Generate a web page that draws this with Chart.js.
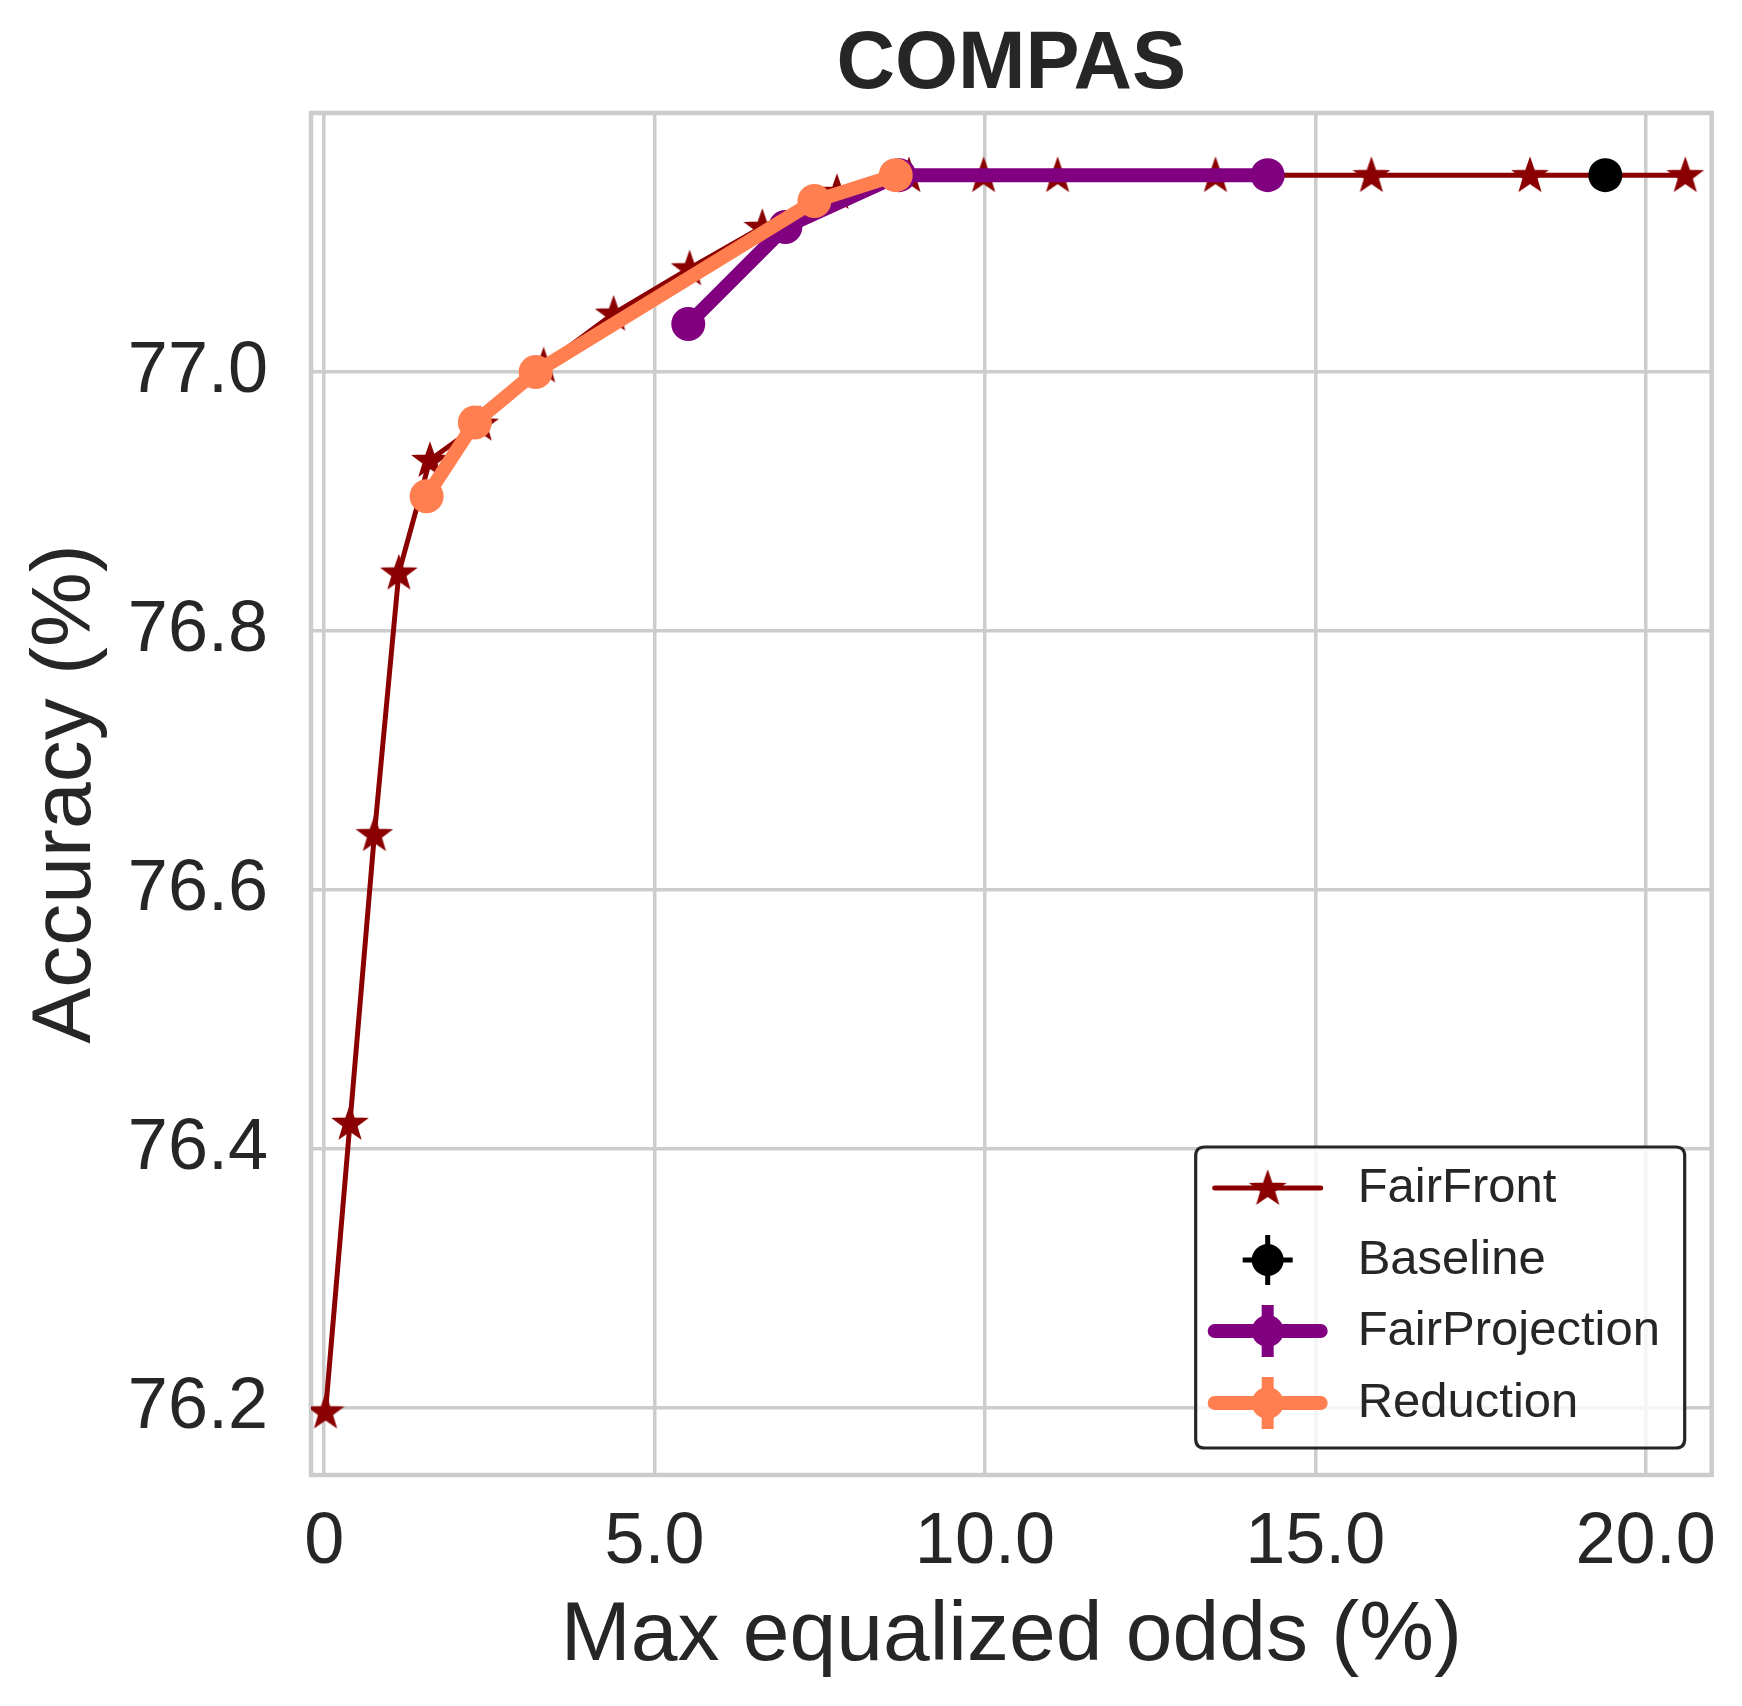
<!DOCTYPE html>
<html>
<head>
<meta charset="utf-8">
<script src="https://cdn.jsdelivr.net/npm/chart.js@4.4.1/dist/chart.umd.min.js"></script>
<style>
  html, body { margin: 0; padding: 0; background: #fff; }
  #wrap { width: 1742px; height: 1706px; position: relative; }
</style>
</head>
<body>
<div id="wrap"><canvas id="chart"></canvas></div>
<script>
// values
const fairFrontX = [0.02, 0.39, 0.76, 1.13, 1.6, 2.36, 3.32, 4.38, 5.53, 6.63, 7.76, 8.85, 9.98, 11.1, 13.49, 15.85, 18.25, 20.6];
const fairFrontY = [76.197, 76.42, 76.643, 76.845, 76.932, 76.96, 77.005, 77.045, 77.08, 77.112, 77.139, 77.152, 77.152, 77.152, 77.152, 77.152, 77.152, 77.152];
const baselineX = [19.39];
const baselineY = [77.152];
const fairProjX = [5.51, 6.98, 8.7, 14.28];
const fairProjY = [77.037, 77.112, 77.152, 77.152];
const reductionX = [1.55, 2.28, 3.2, 7.42, 8.65];
const reductionY = [76.904, 76.961, 77.0, 77.132, 77.152];

const xTicks = [0, 5, 10, 15, 20];
const xTickLabels = ['0', '5.0', '10.0', '15.0', '20.0'];
const yTicks = [76.2, 76.4, 76.6, 76.8, 77.0];
const yTickLabels = ['76.2', '76.4', '76.6', '76.8', '77.0'];

const seriesNames = ['FairFront', 'Baseline', 'FairProjection', 'Reduction'];
const chartTitle = 'COMPAS';

const FONT = "'Liberation Sans', Arial, sans-serif";
const TEXT = '#262626';
const GRID = '#cccccc';

function pts(xs, ys) {
  return xs.map((x, i) => ({ x: x, y: ys[i] }));
}

// filled 5-point star like matplotlib's '*' (with its thin edge)
function makeStar(r, color) {
  const c = document.createElement('canvas');
  const s = Math.ceil(r * 2 + 6);
  c.width = s; c.height = s;
  const g = c.getContext('2d');
  g.fillStyle = color;
  g.strokeStyle = color;
  g.lineWidth = 2.5;
  g.lineJoin = 'miter';
  g.beginPath();
  for (let i = 0; i < 10; i++) {
    const rad = i % 2 === 0 ? r : r * 0.4;
    const a = -Math.PI / 2 + i * Math.PI / 5;
    const px = s / 2 + rad * Math.cos(a), py = s / 2 + 1 + rad * Math.sin(a);
    if (i === 0) g.moveTo(px, py); else g.lineTo(px, py);
  }
  g.closePath();
  g.fill();
  g.stroke();
  return c;
}
const starImg = makeStar(16, '#8b0000');

const framePlugin = {
  id: 'frame',
  beforeDatasetsDraw(chart) {
    const { ctx, chartArea: a } = chart;
    ctx.save();
    ctx.strokeStyle = GRID;
    ctx.lineWidth = 4.5;
    ctx.strokeRect(a.left, a.top, a.right - a.left, a.bottom - a.top);
    ctx.restore();
  }
};

// title centred over the plot area, like matplotlib's ax.set_title
const titlePlugin = {
  id: 'axTitle',
  afterDraw(chart) {
    const { ctx, chartArea: a } = chart;
    ctx.save();
    ctx.fillStyle = TEXT;
    ctx.font = 'bold 81px ' + FONT;
    ctx.textAlign = 'center';
    ctx.textBaseline = 'middle';
    ctx.fillText(chartTitle, (a.left + a.right) / 2, 66);
    ctx.restore();
  }
};

function roundRect(ctx, x, y, w, h, r) {
  ctx.beginPath();
  ctx.moveTo(x + r, y);
  ctx.lineTo(x + w - r, y);
  ctx.quadraticCurveTo(x + w, y, x + w, y + r);
  ctx.lineTo(x + w, y + h - r);
  ctx.quadraticCurveTo(x + w, y + h, x + w - r, y + h);
  ctx.lineTo(x + r, y + h);
  ctx.quadraticCurveTo(x, y + h, x, y + h - r);
  ctx.lineTo(x, y + r);
  ctx.quadraticCurveTo(x, y, x + r, y);
  ctx.closePath();
}

const legendPlugin = {
  id: 'mplLegend',
  afterDraw(chart) {
    const { ctx, chartArea: a } = chart;
    const w = 489, h = 301;
    const x0 = a.right - 27 - w, y0 = a.bottom - 27 - h;
    ctx.save();
    roundRect(ctx, x0, y0, w, h, 9);
    ctx.fillStyle = 'rgba(255,255,255,0.8)';
    ctx.fill();
    ctx.lineWidth = 3.2;
    ctx.strokeStyle = '#262626';
    ctx.stroke();

    const rows = [41, 113, 184, 256];
    const hx0 = x0 + 19, hx1 = x0 + 125, hc = x0 + 72;
    ctx.lineCap = 'round';
    rows.forEach((ry, i) => {
      const y = y0 + ry;
      const ds = chart.data.datasets[chart.data.datasets.findIndex(d => d.label === seriesNames[i])];
      if (i === 0) {
        ctx.strokeStyle = ds.borderColor; ctx.lineWidth = 5;
        ctx.beginPath(); ctx.moveTo(hx0, y); ctx.lineTo(hx1, y); ctx.stroke();
        ctx.drawImage(starImg, hc - starImg.width / 2, y - starImg.height / 2);
      } else if (i === 1) {
        ctx.strokeStyle = '#000'; ctx.lineWidth = 5; ctx.lineCap = 'butt';
        ctx.beginPath(); ctx.moveTo(hc, y - 25); ctx.lineTo(hc, y + 25);
        ctx.moveTo(hc - 25, y); ctx.lineTo(hc + 25, y); ctx.stroke();
        ctx.fillStyle = '#000';
        ctx.beginPath(); ctx.arc(hc, y, 16, 0, Math.PI * 2); ctx.fill();
        ctx.lineCap = 'round';
      } else {
        ctx.strokeStyle = ds.borderColor; ctx.lineWidth = 14;
        ctx.beginPath(); ctx.moveTo(hx0, y); ctx.lineTo(hx1, y); ctx.stroke();
        ctx.lineCap = 'butt'; ctx.lineWidth = 12;
        ctx.beginPath(); ctx.moveTo(hc, y - 26); ctx.lineTo(hc, y + 26); ctx.stroke();
        ctx.lineCap = 'round';
        ctx.fillStyle = ds.borderColor;
        ctx.beginPath(); ctx.arc(hc, y, 16, 0, Math.PI * 2); ctx.fill();
      }
      ctx.fillStyle = TEXT;
      ctx.font = '49px ' + FONT;
      ctx.textAlign = 'left';
      ctx.textBaseline = 'middle';
      ctx.fillText(seriesNames[i], x0 + 162, y);
    });
    ctx.restore();
  }
};

const chart = new Chart(document.getElementById('chart'), {
  type: 'scatter',
  data: {
    datasets: [
      {
        label: 'Reduction',
        data: pts(reductionX, reductionY),
        showLine: true,
        borderColor: '#ff7f50',
        backgroundColor: '#ff7f50',
        borderWidth: 14,
        pointRadius: 17,
        pointBorderWidth: 0,
        order: 0
      },
      {
        label: 'FairProjection',
        data: pts(fairProjX, fairProjY),
        showLine: true,
        borderColor: '#800080',
        backgroundColor: '#800080',
        borderWidth: 14,
        pointRadius: 17,
        pointBorderWidth: 0,
        order: 1
      },
      {
        label: 'Baseline',
        data: pts(baselineX, baselineY),
        showLine: false,
        borderColor: '#000000',
        backgroundColor: '#000000',
        pointRadius: 17,
        pointBorderWidth: 0,
        order: 2
      },
      {
        label: 'FairFront',
        data: pts(fairFrontX, fairFrontY),
        showLine: true,
        borderColor: '#8b0000',
        backgroundColor: '#8b0000',
        borderWidth: 5,
        pointStyle: starImg,
        pointRadius: 17,
        order: 3
      }
    ]
  },
  options: {
    responsive: true,
    maintainAspectRatio: false,
    animation: false,
    devicePixelRatio: 1,
    layout: { padding: { top: 113, right: 28, bottom: 0, left: 0 } },
    plugins: {
      legend: { display: false },
      tooltip: { enabled: false },
      title: { display: false }
    },
    scales: {
      x: {
        type: 'linear',
        min: -0.2,
        max: 21,
        afterBuildTicks: s => { s.ticks = xTicks.map(v => ({ value: v })); },
        afterFit: s => { s.height = 231; },
        ticks: {
          color: TEXT,
          font: { family: FONT, size: 72 },
          padding: 25,
          maxRotation: 0,
          callback: v => xTickLabels[xTicks.indexOf(v)]
        },
        grid: { color: GRID, lineWidth: 3.5, drawTicks: false },
        border: { display: false },
        title: {
          display: true,
          text: 'Max equalized odds (%)',
          color: TEXT,
          font: { family: FONT, size: 84 },
          padding: { top: 0, bottom: 19 }
        }
      },
      y: {
        type: 'linear',
        min: 76.148,
        max: 77.2,
        afterBuildTicks: s => { s.ticks = yTicks.map(v => ({ value: v })); },
        afterFit: s => { s.width = 311; },
        ticks: {
          color: TEXT,
          font: { family: FONT, size: 72 },
          padding: 43,
          callback: v => yTickLabels[yTicks.findIndex(t => Math.abs(t - v) < 1e-6)]
        },
        grid: { color: GRID, lineWidth: 3.5, drawTicks: false },
        border: { display: false },
        title: {
          display: true,
          text: 'Accuracy (%)',
          color: TEXT,
          font: { family: FONT, size: 84 },
          padding: { top: 16, bottom: 0 }
        }
      }
    }
  },
  plugins: [framePlugin, titlePlugin, legendPlugin]
});
</script>
</body>
</html>
